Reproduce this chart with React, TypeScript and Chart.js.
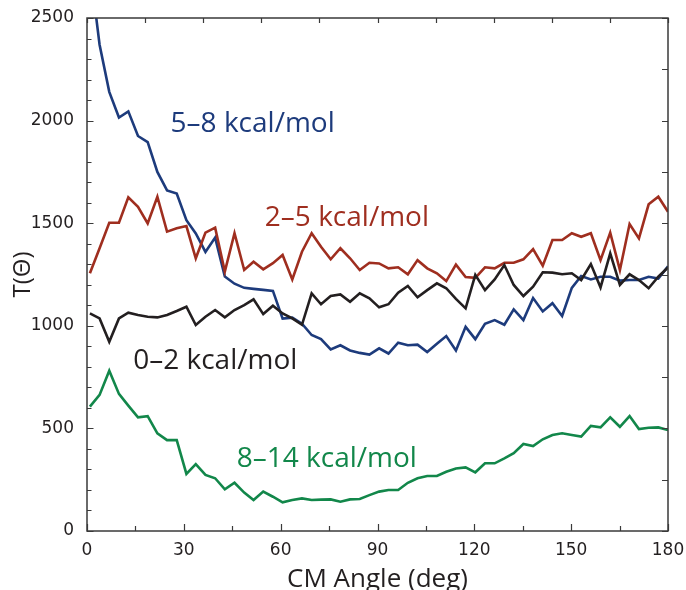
import React, { useEffect, useRef } from "react";
import { Chart, registerables } from "chart.js";

Chart.register(...registerables);

// CM angle (deg) of each sample
const angles = [
  0.9, 3.9, 6.9, 9.9, 12.8, 15.8, 18.8, 21.8, 24.8, 27.8,
  30.8, 33.7, 36.7, 39.7, 42.7, 45.7, 48.7, 51.6, 54.6, 57.6,
  60.6, 63.6, 66.6, 69.6, 72.5, 75.5, 78.5, 81.5, 84.5, 87.5,
  90.5, 93.4, 96.4, 99.4, 102.4, 105.4, 108.4, 111.3, 114.3, 117.3,
  120.3, 123.3, 126.3, 129.3, 132.2, 135.2, 138.2, 141.2, 144.2, 147.2,
  150.2, 153.1, 156.1, 159.1, 162.1, 165.1, 168.1, 171.0, 174.0, 177.0,
  180.0,
];

const series58 = [
  2750, 2370, 2140, 2015, 2045, 1925, 1895, 1750, 1660, 1645,
  1515, 1450, 1360, 1430, 1240, 1205, 1185, 1180, 1175, 1170,
  1035, 1040, 1010, 955, 935, 885, 905, 880, 868, 860,
  890, 865, 918, 905, 908, 872, 912, 950, 880, 995,
  935, 1010, 1028, 1005, 1080, 1028, 1135, 1070, 1110, 1048,
  1185, 1243, 1226, 1239, 1239, 1220, 1223, 1223, 1239, 1230,
  1290,
];

const series25 = [
  1256, 1378, 1502, 1502, 1626, 1580, 1499, 1629, 1459, 1475,
  1486, 1329, 1454, 1478, 1264, 1451, 1272, 1312, 1275, 1305,
  1345, 1226, 1361, 1451, 1385, 1324, 1378, 1329, 1272, 1307,
  1304, 1280, 1285, 1251, 1320, 1280, 1256, 1218, 1298, 1238,
  1234, 1285, 1280, 1307, 1307, 1324, 1374, 1293, 1418, 1418,
  1451, 1434, 1451, 1320, 1454, 1272, 1496, 1426, 1592, 1629,
  1556,
];

const series02 = [
  1061, 1036, 922, 1036, 1064, 1053, 1044, 1041, 1053, 1072,
  1093, 1004, 1044, 1077, 1041, 1077, 1101, 1129, 1057, 1098,
  1060, 1036, 1005, 1158, 1105, 1145, 1153, 1117, 1158, 1134,
  1090, 1105, 1161, 1194, 1139, 1174, 1207, 1183, 1131, 1085,
  1248, 1174, 1226, 1296, 1199, 1145, 1191, 1261, 1259, 1251,
  1256, 1223, 1301, 1187, 1353, 1199, 1251, 1223, 1183, 1239,
  1285,
];

const series814 = [
  606, 663, 781, 668, 611, 554, 560, 476, 443, 443,
  278, 326, 273, 257, 203, 235, 187, 151, 192, 167,
  140, 151, 159, 151, 153, 154, 143, 154, 156, 175,
  192, 200, 200, 235, 257, 268, 268, 289, 305, 310,
  286, 330, 330, 354, 379, 424, 414, 447, 468, 476,
  468, 460, 512, 505, 554, 508, 560, 497, 503, 505,
  492,
];

const seriesNames = ["5–8 kcal/mol", "2–5 kcal/mol", "0–2 kcal/mol", "8–14 kcal/mol"];

const xTitle = "CM Angle (deg)";
const yTitle = "T(Θ)";

const X_MIN = 0;
const X_MAX = 180;
const Y_MIN = 0;
const Y_MAX = 2500;

const COLORS = {
  blue: "#1d3b7c",
  red: "#9f2e1f",
  black: "#231f20",
  green: "#12874a",
  frame: "#3a3a3a",
  text: "#231f20",
};

// in-plot series labels, placed in data coordinates
const labelSpots = [
  { text: seriesNames[0], x: 25.9, y: 1943, color: COLORS.blue },
  { text: seriesNames[1], x: 55.1, y: 1488, color: COLORS.red },
  { text: seriesNames[2], x: 14.3, y: 788, color: COLORS.black },
  { text: seriesNames[3], x: 46.4, y: 310, color: COLORS.green },
];

const toPoints = (vals: number[]) => vals.map((v, i) => ({ x: angles[i], y: v }));

const frameAndTicks = {
  id: "frameAndTicks",
  afterDatasetsDraw(chart: any) {
    const { ctx, chartArea, scales } = chart;
    const { left, right, top, bottom } = chartArea;
    const x = scales.x;
    const y = scales.y;
    ctx.save();
    ctx.strokeStyle = COLORS.frame;
    ctx.lineWidth = 1.2;
    ctx.beginPath();
    // left: every 100, inward
    for (let v = Y_MIN; v <= Y_MAX; v += 100) {
      const py = Math.round(y.getPixelForValue(v)) + 0.5;
      const len = v % 500 === 0 ? 6.5 : 4.5;
      ctx.moveTo(left, py);
      ctx.lineTo(left + len, py);
    }
    // right: every 250, inward
    for (let v = Y_MIN; v <= Y_MAX; v += 250) {
      const py = Math.round(y.getPixelForValue(v)) + 0.5;
      ctx.moveTo(right, py);
      ctx.lineTo(right - 6, py);
    }
    // bottom: every 15, inward
    for (let v = X_MIN; v <= X_MAX; v += 15) {
      const px = Math.round(x.getPixelForValue(v)) + 0.5;
      const len = v % 30 === 0 ? 7 : 5;
      ctx.moveTo(px, bottom);
      ctx.lineTo(px, bottom - len);
    }
    // top: every 18, inward
    for (let v = X_MIN; v <= X_MAX; v += 18) {
      const px = Math.round(x.getPixelForValue(v)) + 0.5;
      ctx.moveTo(px, top);
      ctx.lineTo(px, top + 5);
    }
    ctx.stroke();
    ctx.lineWidth = 1.5;
    ctx.strokeRect(left, top, right - left, bottom - top);

    // series labels
    ctx.font = '28px "Open Sans"';
    ctx.textAlign = "left";
    ctx.textBaseline = "alphabetic";
    for (const l of labelSpots) {
      ctx.fillStyle = l.color;
      ctx.fillText(l.text, x.getPixelForValue(l.x), y.getPixelForValue(l.y));
    }
    ctx.restore();
  },
};

export default function App() {
  const ref = useRef<HTMLCanvasElement | null>(null);

  useEffect(() => {
    if (!ref.current) return;
    const mk = (label: string, vals: number[], color: string) => ({
      label,
      data: toPoints(vals),
      borderColor: color,
      backgroundColor: color,
      borderWidth: 2.6,
      pointRadius: 0,
      tension: 0,
      fill: false,
      clip: 0,
    });
    const chart = new Chart(ref.current, {
      type: "line",
      data: {
        datasets: [
          mk(seriesNames[3], series814, COLORS.green),
          mk(seriesNames[2], series02, COLORS.black),
          mk(seriesNames[1], series25, COLORS.red),
          mk(seriesNames[0], series58, COLORS.blue),
        ],
      },
      options: {
        responsive: false,
        animation: false,
        layout: { padding: { left: 0, top: 18, right: 18, bottom: 0 } },
        plugins: {
          legend: { display: false },
          tooltip: { enabled: false },
        },
        scales: {
          x: {
            type: "linear",
            min: X_MIN,
            max: X_MAX,
            grid: { display: false },
            border: { display: false },
            ticks: {
              stepSize: 30,
              padding: 1,
              color: COLORS.text,
              font: { family: '"DejaVu Sans"', size: 17 },
              maxRotation: 0,
              callback: (v: any) => String(v),
            },
            title: {
              display: true,
              text: xTitle,
              color: COLORS.text,
              font: { family: '"Open Sans"', size: 26, lineHeight: 1 },
              padding: { top: 0, bottom: -3 },
            },
            afterFit: (s: any) => {
              s.height = 59;
            },
          },
          y: {
            type: "linear",
            min: Y_MIN,
            max: Y_MAX,
            grid: { display: false },
            border: { display: false },
            ticks: {
              stepSize: 500,
              padding: 5,
              color: COLORS.text,
              font: { family: '"DejaVu Sans"', size: 17 },
              callback: (v: any) => String(v),
            },
            title: {
              display: true,
              text: yTitle,
              color: COLORS.text,
              font: { family: '"Open Sans"', size: 24, lineHeight: 1 },
              padding: { top: 11, bottom: 0 },
            },
            afterFit: (s: any) => {
              s.width = 87;
            },
          },
        },
      },
      plugins: [frameAndTicks],
    });
    return () => chart.destroy();
  }, []);

  return (
    <div style={{ position: "absolute", left: 0, top: 0, width: 686, height: 590, background: "#fff" }}>
      <canvas ref={ref} width={686} height={590} style={{ width: 686, height: 590, display: "block" }} />
    </div>
  );
}
